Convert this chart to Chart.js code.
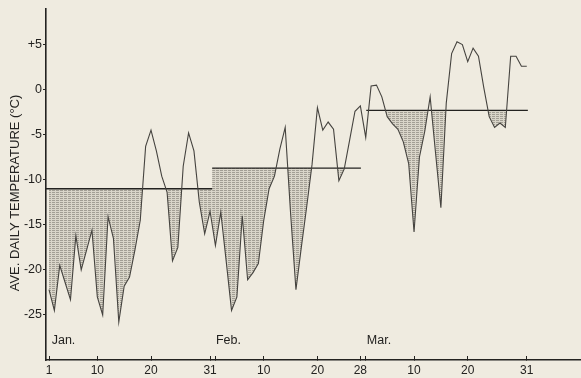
<!DOCTYPE html>
<html>
<head>
<meta charset="utf-8">
<script src="https://cdn.jsdelivr.net/npm/chart.js@4/dist/chart.umd.min.js"></script>
<style>
  html, body { margin: 0; padding: 0; background: #efebe0; }
  #wrap { width: 581px; height: 378px; }
</style>
</head>
<body>
<div id="wrap"><canvas id="tempChart"></canvas></div>
<script>
// daily mean temperatures (°C)
const janTemps = [-22.2, -24.5, -19.5, -21.4, -23.3, -16.2, -20, -17.8, -15.6, -23, -25, -14.1, -16.5, -25.8, -21.8, -20.8,
  -17.8, -14.5, -6.3, -4.5, -6.8, -9.6, -11.4, -19, -17.5, -8.5, -4.8, -6.8, -12.5, -16, -13.5];
const febTemps = [-17.3, -13.6, -19, -24.5, -23, -14, -21.1, -20.3, -19.3, -14.5, -11, -9.6, -6.6, -4.2, -13.7, -22.2,
  -17.5, -13, -8.3, -2, -4.5, -3.6, -4.4, -10.1, -8.8, -5.6, -2.4, -1.8];
const marTemps = [-5.3, 0.4, 0.5, -0.8, -3, -3.8, -4.4, -5.8, -8.2, -15.8, -7.5, -4.6, -0.8, -7, -13.1, -1.5,
  4, 5.3, 5, 3.1, 4.6, 3.7, 0.2, -3, -4.2, -3.7, -4.2, 3.7, 3.7, 2.6, 2.6];

// monthly means and the day span each mean line covers (day 0 = Jan 1)
const monthNames = ['Jan.', 'Feb.', 'Mar.'];
const monthMeans = [-11.0, -8.7, -2.3];
const meanFrom = [-0.6, 30.4, 59.1];
const meanTo = [30.4, 58.1, 89.2];
const shadeFrom = [-0.6, 30.4, 59.6];

// x-axis ticks (day index) and their labels
const tickDays = [0, 9, 19, 30, 31, 40, 50, 58, 59, 68, 78, 89];
const tickLabels = ['1', '10', '20', '31', '', '10', '20', '28', '', '10', '20', '31'];
const yTicks = [-25, -20, -15, -10, -5, 0, 5];

const INK = '#232220';
const FONT = "'Liberation Sans', Arial, sans-serif";

const series = [...janTemps, ...febTemps, ...marTemps].map((t, i) => ({ x: i, y: t }));

function stipple() {
  const c = document.createElement('canvas');
  c.width = 4; c.height = 2;
  const g = c.getContext('2d');
  g.fillStyle = '#d9d5c9'; g.fillRect(0, 0, 4, 2);
  g.fillStyle = '#a29e94'; g.fillRect(0, 0, 3, 1);
  return g.createPattern(c, 'repeat');
}
const shade = stipple();

// clip each shaded dataset to its own month (set up before the filler draws it)
let clipOn = false;
function clipFor(chart, index) {
  const ds = chart.data.datasets[index];
  if (!ds || !ds.clipDays) return false;
  const x = chart.scales.x, a = chart.chartArea, ctx = chart.ctx;
  const l = x.getPixelForValue(ds.clipDays[0]), r = x.getPixelForValue(ds.clipDays[1]);
  ctx.save();
  ctx.beginPath();
  ctx.rect(l, a.top, r - l, a.bottom - a.top);
  ctx.clip();
  return true;
}
const monthClip = {
  id: 'monthClip',
  beforeDatasetsDraw(chart) { clipOn = clipFor(chart, chart.data.datasets.length - 1); },
  afterDatasetDraw(chart, args) {
    if (clipOn) chart.ctx.restore();
    clipOn = clipFor(chart, args.index - 1);
  },
  afterDatasetsDraw(chart) { if (clipOn) { chart.ctx.restore(); clipOn = false; } }
};

// month names and the rotated axis title
const textBits = {
  id: 'textBits',
  afterDraw(chart) {
    const ctx = chart.ctx, x = chart.scales.x, y = chart.scales.y;
    const starts = [0.5, 31.1, 59.2];
    ctx.save();
    ctx.fillStyle = INK;
    ctx.font = '12.5px ' + FONT;
    ctx.textAlign = 'left';
    ctx.textBaseline = 'middle';
    monthNames.forEach((m, i) => ctx.fillText(m, x.getPixelForValue(starts[i]), y.getPixelForValue(-27.8)));
    ctx.font = '13px ' + FONT;
    ctx.translate(15, 193);
    ctx.rotate(-Math.PI / 2);
    ctx.textAlign = 'center';
    ctx.fillText('AVE. DAILY TEMPERATURE (°C)', 0, 0);
    ctx.restore();
  }
};

const meanSets = monthMeans.map((m, i) => ({
  data: [{ x: meanFrom[i], y: m }, { x: meanTo[i], y: m }],
  borderColor: INK, borderWidth: 1.3, pointRadius: 0, fill: false
}));
const shadeSets = monthMeans.map((m, i) => ({
  data: series,
  clipDays: [shadeFrom[i], meanTo[i]],
  borderWidth: 0, pointRadius: 0,
  fill: { target: { value: m }, above: 'rgba(0,0,0,0)', below: shade }
}));

new Chart(document.getElementById('tempChart'), {
  type: 'line',
  data: {
    datasets: [
      { data: series, borderColor: '#45433f', borderWidth: 1.1, pointRadius: 0, fill: false, tension: 0 },
      ...meanSets,
      ...shadeSets
    ]
  },
  options: {
    responsive: true,
    maintainAspectRatio: false,
    animation: false,
    layout: { padding: { top: 7, right: 0, bottom: 0, left: 0 } },
    plugins: { legend: { display: false }, tooltip: { enabled: false } },
    scales: {
      x: {
        type: 'linear', min: -0.56, max: 99.1,
        afterBuildTicks: s => { s.ticks = tickDays.map(v => ({ value: v })); },
        afterFit: s => { s.height = 18; },
        ticks: { autoSkip: false, maxRotation: 0, padding: 7, color: INK, font: { family: FONT, size: 12 },
          callback: (v, i) => tickLabels[i] },
        grid: { drawOnChartArea: false, drawTicks: true, tickLength: -4, color: INK, lineWidth: 1 },
        border: { color: INK, width: 1.6 }
      },
      y: {
        min: -30, max: 9,
        afterBuildTicks: s => { s.ticks = yTicks.map(v => ({ value: v })); },
        afterFit: s => { s.width = 46; },
        ticks: { padding: 1, color: INK, font: { family: FONT, size: 12.5 },
          callback: v => (v > 0 ? '+' + v : String(v)) },
        grid: { drawOnChartArea: false, drawTicks: true, tickLength: 3, color: INK, lineWidth: 1 },
        border: { color: INK, width: 1.6 }
      }
    }
  },
  plugins: [monthClip, textBits]
});
</script>
</body>
</html>
